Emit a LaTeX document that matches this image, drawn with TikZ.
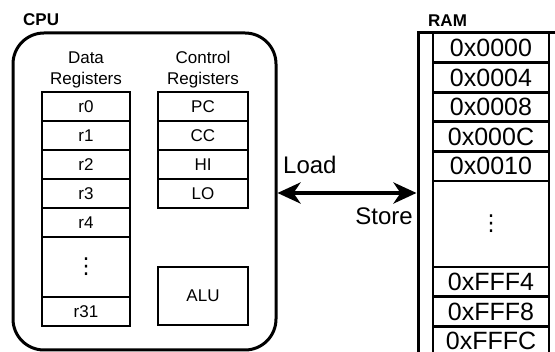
\documentclass[tikz,border=0pt]{standalone}
\usepackage{fontspec}
\setmainfont{Liberation Sans}
\newfontfamily\symfont{DejaVu Sans}
\usetikzlibrary{arrows.meta}
\begin{document}
\begin{tikzpicture}[x=1pt,y=-1pt,
  reg/.style={draw, line width=2.7pt, minimum width=88pt, minimum height=29pt, inner sep=0pt, font=\fontsize{17}{18}\selectfont},
  creg/.style={reg, minimum width=90pt},
  cell/.style={draw, line width=2.7pt, minimum width=116pt, minimum height=29.6pt, inner sep=0pt, font=\fontsize{25}{26}\selectfont},
  hdr/.style={inner sep=0pt, anchor=base, font=\fontsize{17}{20}\selectfont},
  title/.style={inner sep=0pt, anchor=base west, font=\bfseries\fontsize{17}{20}\selectfont},
  lbl/.style={inner sep=0pt, font=\fontsize{24}{26}\selectfont},
  dots/.style={font=\symfont\fontsize{22}{22}\selectfont},
  arr/.style={line width=4pt, {Stealth[length=23pt,width=21pt,inset=7pt]}-{Stealth[length=23pt,width=21pt,inset=7pt]}}
]
\clip (0,0) rectangle (555,352);
% CPU
\node[title] (cputitle) at (23,26) {CPU};
\node[draw, line width=3pt, rounded corners=31pt, minimum width=263pt, minimum height=317pt, inner sep=0pt] (cpu) at (144.5,191.5) {};
\node[hdr] (dh1) at (86,64) {Data};
\node[hdr] (dh2) at (86,85) {Registers};
\node[hdr] (ch1) at (203,64) {Control};
\node[hdr] (ch2) at (203,85) {Registers};
\node[reg] (r0) at (86,106.5) {r0};
\node[reg] (r1) at (86,135.5) {r1};
\node[reg] (r2) at (86,164.5) {r2};
\node[reg] (r3) at (86,193.5) {r3};
\node[reg] (r4) at (86,222.5) {r4};
\node[reg, minimum height=60pt, dots] (rd) at (86,267) {⋮};
\node[reg] (r31) at (86,311.5) {r31};
\node[creg] (pc) at (203,106.5) {PC};
\node[creg] (cc) at (203,135.5) {CC};
\node[creg] (hi) at (203,164.5) {HI};
\node[creg] (lo) at (203,193.5) {LO};
\node[creg, minimum height=58pt] (alu) at (203,296) {ALU};
% RAM
\node[title] (ramtitle) at (428,27) {RAM};
\node[draw, line width=3pt, minimum width=142pt, minimum height=330pt, inner sep=0pt] (ram) at (489,198) {};
\draw[line width=2.7pt] (433,33) -- (433,360);
\node[cell] (m0) at (491,47.8) {0x0000};
\node[cell] (m1) at (491,77.4) {0x0004};
\node[cell] (m2) at (491,107) {0x0008};
\node[cell] (m3) at (491,136.6) {0x000C};
\node[cell] (m4) at (491,166.2) {0x0010};
\node[cell, minimum height=86pt, dots] (md) at (491,224) {⋮};
\node[cell] (m5) at (491,281.8) {0xFFF4};
\node[cell] (m6) at (491,311.4) {0xFFF8};
\node[cell] (m7) at (491,341) {0xFFFC};
% connector
\coordinate (ay) at (0,193);
\draw[arr] (cpu.east |- ay) -- (ram.west |- ay);
\node[lbl, anchor=base west] (load) at (283,174) {Load};
\node[lbl, anchor=base east] (store) at (413,225) {Store};
\end{tikzpicture}
\end{document}
